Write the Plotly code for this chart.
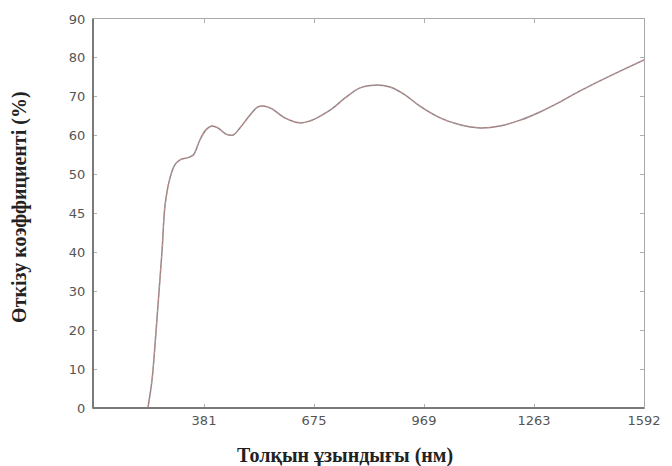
import plotly.graph_objects as go

# Wavelength (nm) and transmission (position on the chart's y scale, 0..100 = labels 0..90)
wavelength = [231, 242, 253, 261, 269, 277, 290, 303, 317, 336, 352, 370, 386, 402, 418,
              440, 459, 477, 504, 525, 544, 563, 597, 638, 664, 696, 723, 758, 798, 838,
              878, 918, 958, 1012, 1065, 1119, 1172, 1226, 1279, 1333, 1386, 1439, 1493, 1557]
transmission = [0, 7.2, 20, 30.3, 40.6, 52.2, 59.1, 62.5, 63.8, 64.3, 65, 68.9, 71.5, 72.5, 72,
                70.4, 70.2, 72, 75.3, 77.4, 77.6, 76.9, 74.6, 73.3, 73.8, 75.3, 76.9, 79.7, 82.3, 83,
                82.5, 80.5, 77.6, 74.6, 72.8, 72, 72.5, 74, 76.1, 78.7, 81.5, 84.1, 86.6, 89.5]

x_tickvals = [381, 675, 969, 1263, 1557]
x_ticktext = ["381", "675", "969", "1263", "1592"]
y_tickvals = [0, 10, 20, 30, 40, 50, 60, 70, 80, 90, 100]
y_ticktext = ["0", "10", "20", "30", "40", "45", "50", "60", "70", "80", "90"]

x_title = "<b>Толқын ұзындығы (нм)</b>"
y_title = "<b>Өткізу коэффициенті (%)</b>"

fig = go.Figure()
fig.add_trace(go.Scatter(x=wavelength, y=transmission, mode="lines",
                         line=dict(color="#908686", width=1.5, shape="spline"),
                         hoverinfo="skip", showlegend=False))
fig.add_trace(go.Scatter(x=wavelength, y=transmission, mode="lines",
                         line=dict(color="#d89090", width=0.9, dash="dot", shape="spline"),
                         showlegend=False))

title_font = dict(family="Liberation Serif", size=20, color="#222222")
fig.update_layout(
    width=672, height=466,
    margin=dict(l=85, r=36, t=11, b=66),
    paper_bgcolor="white", plot_bgcolor="white",
    xaxis=dict(range=[84.3, 1557], tickvals=x_tickvals, ticktext=x_ticktext,
               automargin=False,
               showgrid=False, zeroline=False, showline=True, mirror="ticks",
               linecolor="#a8a8a8", linewidth=1.4, ticks="inside", ticklen=4,
               tickcolor="#b0b0b0",
               tickfont=dict(family="DejaVu Sans", size=13, color="#555555")),
    yaxis=dict(range=[0, 100], tickvals=y_tickvals, ticktext=y_ticktext,
               automargin=False,
               showgrid=False, zeroline=False, showline=True, mirror="ticks",
               linecolor="#a8a8a8", linewidth=1.4, ticks="inside", ticklen=4,
               tickcolor="#b0b0b0", ticklabelstandoff=4,
               tickfont=dict(family="DejaVu Sans", size=13, color="#555555")),
    shapes=[
        dict(type="line", xref="paper", yref="paper", x0=0, x1=0, y0=0, y1=1,
             line=dict(color="#7a7a7a", width=2)),
        dict(type="line", xref="paper", yref="paper", x0=0, x1=1, y0=0, y1=0,
             line=dict(color="#7a7a7a", width=2)),
    ],
    annotations=[
        dict(text=x_title, xref="paper", yref="paper", x=0.457, y=-0.121,
             xanchor="center", yanchor="middle", showarrow=False, font=title_font),
        dict(text=y_title, xref="paper", yref="paper", x=-0.1325, y=0.517,
             xanchor="center", yanchor="middle", showarrow=False, font=title_font,
             textangle=-90),
    ],
)
fig.write_html("out.html")
